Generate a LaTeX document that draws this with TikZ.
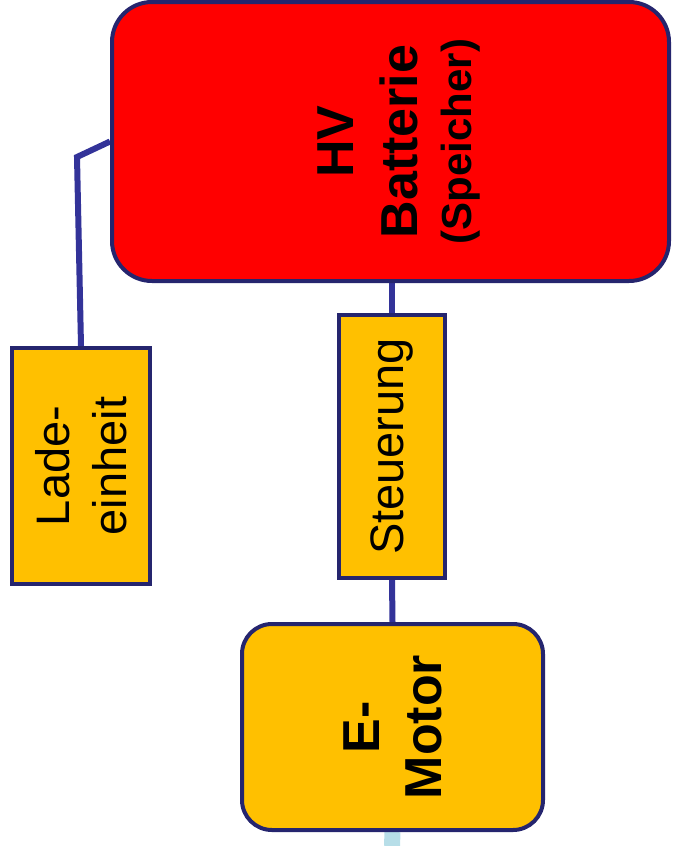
\documentclass[tikz,border=0pt]{standalone}
\usepackage{fontspec}
\setmainfont{Liberation Sans}
\usetikzlibrary{backgrounds}
\definecolor{edge}{HTML}{25256E}
\definecolor{wire}{HTML}{333399}
\definecolor{amber}{HTML}{FFC000}
\definecolor{hvred}{HTML}{FF0000}
\definecolor{cool}{HTML}{B7DEE8}
\tikzset{
  box/.style={draw=edge, line width=4pt, rotate=90, align=center, inner sep=0pt, text=black},
  wirestyle/.style={draw=wire, line width=6pt},
}
\begin{document}
\begin{tikzpicture}[x=1pt,y=-1pt]
\useasboundingbox (0,0) rectangle (673,846);
\node[box, fill=hvred, rounded corners=40pt, minimum width=279pt, minimum height=557pt,
  font=\fontsize{52}{64}\selectfont\bfseries] (bat) at (390.5,141.5)
  {\rule{0pt}{52pt}HV\\Batterie\\[-10pt]{\fontsize{42}{50}\selectfont (Speicher)}};
\node[box, fill=amber, minimum width=236pt, minimum height=138pt,
  font=\fontsize{47}{57}\selectfont] (lade) at (81,466)
  {Lade-\\einheit};
\node[box, fill=amber, minimum width=263pt, minimum height=106pt,
  font=\fontsize{47}{57}\selectfont] (steu) at (392,446.5)
  {Steuerung};
\node[box, fill=amber, rounded corners=30pt, minimum width=206pt, minimum height=301pt,
  font=\fontsize{52}{62}\selectfont\bfseries] (mot) at (392.5,727)
  {E-\\Motor};
\coordinate (kink) at (77,157);
\coordinate (bottom) at (392,846);
\begin{scope}[on background layer]
\draw[wirestyle] (lade.east) -- (kink) -- (bat.north);
\draw[wirestyle] (steu.east |- bat.west) -- (steu.east);
\draw[wirestyle] (steu.west) -- (mot.east);
\draw[draw=cool, line width=16pt] (mot.west) -- (bottom);
\end{scope}
\end{tikzpicture}
\end{document}
